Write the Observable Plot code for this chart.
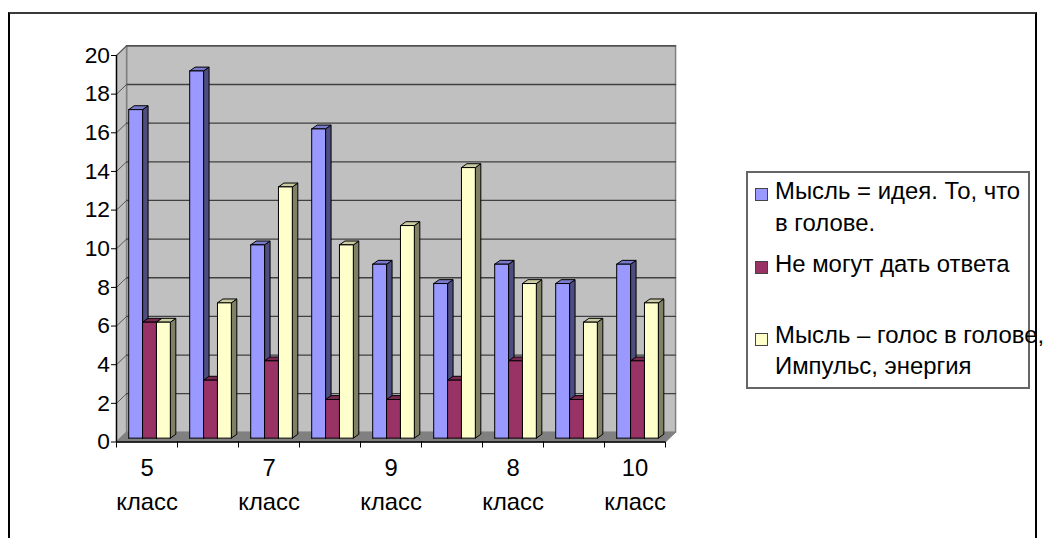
<!DOCTYPE html>
<html lang="ru">
<head>
<meta charset="utf-8">
<script src="https://cdn.jsdelivr.net/npm/d3@7"></script>
<script src="https://cdn.jsdelivr.net/npm/@observablehq/plot@0.6"></script>
<style>
html,body{margin:0;padding:0;background:#fff;overflow:hidden}
#page{position:relative;width:1044px;height:538px;font-family:"Liberation Sans",Arial,sans-serif;overflow:hidden}
#frame{position:absolute;left:8px;top:12px;width:1025px;height:540px;border:2px solid #000;border-top-color:#3a3a3a;box-sizing:content-box}
#chart{position:absolute;left:0;top:0}
#legendbox{position:absolute;left:746px;top:171px;width:280px;height:214px;border:2px solid #666;background:#fff}
.sw{position:absolute;width:11px;height:11px;border:1px solid #444;left:755px}
.lt{position:absolute;left:775px;font-size:23.9px;line-height:20px;white-space:nowrap;color:#000}
</style>
</head>
<body>
<div id="page">
  <div id="frame"></div>
  <div id="chart"></div>
  <div id="legend"></div>
</div>
<script>
const groupLabels = ["5\nкласс", "7\nкласс", "9\nкласс", "8\nкласс", "10\nкласс"];
const labelGroups = [0, 2, 4, 6, 8];
const seriesNames = ["Мысль = идея. То, что\nв голове.", "Не могут дать ответа", "Мысль – голос в голове,\nИмпульс, энергия"];
const ideaValues = [17, 19, 10, 16, 9, 8, 9, 8, 9];
const noAnswerValues = [6, 3, 4, 2, 2, 3, 4, 2, 4];
const voiceValues = [6, 7, 13, 10, 11, 14, 8, 6, 7];
const yTicks = [0, 2, 4, 6, 8, 10, 12, 14, 16, 18, 20];

const series = [ideaValues, noAnswerValues, voiceValues];
const faceColors = [
  {front: "#9999ff", side: "#4d4d80", top: "#7a7acc"},
  {front: "#993366", side: "#4d1a33", top: "#7a2952"},
  {front: "#ffffcc", side: "#808066", top: "#cccca3"}
];

// pseudo-3D layout in data units (x: one group = 1, y: value units)
const wallDx = 0.165, wallDy = 0.5;
const baseY = 0.2, barStart = 0.2, barW = 0.2275, depthX = 0.09, depthY = 0.2;
const nGroups = ideaValues.length;

function poly(id, color, pts) {
  return pts.map(([x, y]) => ({id, color, x, y}));
}

const walls = [
  ...poly("back", "#c0c0c0", [[wallDx, wallDy], [nGroups + wallDx, wallDy], [nGroups + wallDx, 20 + wallDy], [wallDx, 20 + wallDy], [wallDx, wallDy]]),
  ...poly("left", "#c0c0c0", [[0, 0], [wallDx, wallDy], [wallDx, 20 + wallDy], [0, 20], [0, 0]])
];
const floor = poly("floor", "#808080", [[0, 0], [nGroups, 0], [nGroups + wallDx, wallDy], [wallDx, wallDy], [0, 0]]);

const gridBack = yTicks.filter(v => v > 0).flatMap(v => [
  {id: v, x: wallDx, y: v + wallDy}, {id: v, x: nGroups + wallDx, y: v + wallDy}
]);
const gridSide = yTicks.filter(v => v > 0).flatMap(v => [
  {id: v, x: 0, y: v}, {id: v, x: wallDx, y: v + wallDy}
]);

const faces = [];
series.forEach((vals, s) => {
  vals.forEach((v, g) => {
    const x0 = g + barStart + s * barW, x1 = x0 + barW, top = v + baseY;
    const c = faceColors[s];
    faces.push(...poly(`${g}-${s}-side`, c.side, [[x1, baseY], [x1 + depthX, baseY + depthY], [x1 + depthX, top + depthY], [x1, top], [x1, baseY]]));
    faces.push(...poly(`${g}-${s}-top`, c.top, [[x0, top], [x1, top], [x1 + depthX, top + depthY], [x0 + depthX, top + depthY], [x0, top]]));
    faces.push(...poly(`${g}-${s}-front`, c.front, [[x0, baseY], [x1, baseY], [x1, top], [x0, top], [x0, baseY]]));
  });
});

const chart = Plot.plot({
  width: 1044,
  height: 538,
  marginLeft: 116,
  marginRight: 1044 - 665,
  marginTop: 55,
  marginBottom: 538 - 441.5,
  style: {background: "transparent", fontFamily: '"Liberation Sans",Arial,sans-serif', overflow: "visible"},
  x: {domain: [0, nGroups], axis: null},
  y: {domain: [0, 20], axis: null},
  color: {type: "identity"},
  marks: [
    Plot.line(walls, {x: "x", y: "y", z: "id", fill: "color", stroke: "#808080", strokeWidth: 1.5, curve: "linear"}),
    Plot.line(floor, {x: "x", y: "y", z: "id", fill: "color", stroke: "#808080", strokeWidth: 1, curve: "linear"}),
    Plot.line(gridBack, {x: "x", y: "y", z: "id", stroke: "#404040", strokeWidth: 1.3}),
    Plot.line(gridSide, {x: "x", y: "y", z: "id", stroke: "#555555", strokeWidth: 1}),
    Plot.line(faces, {x: "x", y: "y", z: "id", fill: "color", stroke: "#000", strokeWidth: 1, curve: "linear"}),
    Plot.ruleX([0], {y1: 0, y2: 20, stroke: "#000", strokeWidth: 1.3}),
    Plot.ruleY([0], {x1: 0, x2: nGroups, stroke: "#000", strokeWidth: 1.5}),
    Plot.axisY({ticks: yTicks, tickSize: 5, tickPadding: 1.5, tickFormat: d => d, fontSize: 22.8, stroke: "#000", strokeWidth: 1, color: "#000", label: null}),
    Plot.axisX({ticks: d3.range(nGroups + 1), tickSize: 6, tickPadding: 0, tickFormat: () => "", stroke: "#000", label: null}),
    Plot.text(groupLabels, {
      x: (d, i) => labelGroups[i] + 0.5,
      y: () => 0,
      text: d => d,
      dy: 10,
      lineAnchor: "top",
      lineHeight: 1.42,
      fontSize: 23.8,
      fill: "#000"
    })
  ]
});
document.getElementById("chart").appendChild(chart);

// legend
const legendEl = document.getElementById("legend");
const box = document.createElement("div");
box.id = "legendbox";
legendEl.appendChild(box);
const swatchTops = [188, 261, 333];
const lineTops = [[181, 213], [254], [325, 356]];
seriesNames.forEach((name, s) => {
  const sw = document.createElement("div");
  sw.className = "sw";
  sw.style.top = swatchTops[s] + "px";
  sw.style.background = faceColors[s].front;
  legendEl.appendChild(sw);
  name.split("\n").forEach((line, l) => {
    const t = document.createElement("div");
    t.className = "lt";
    t.style.top = lineTops[s][l] + "px";
    t.textContent = line;
    legendEl.appendChild(t);
  });
});
</script>
</body>
</html>
